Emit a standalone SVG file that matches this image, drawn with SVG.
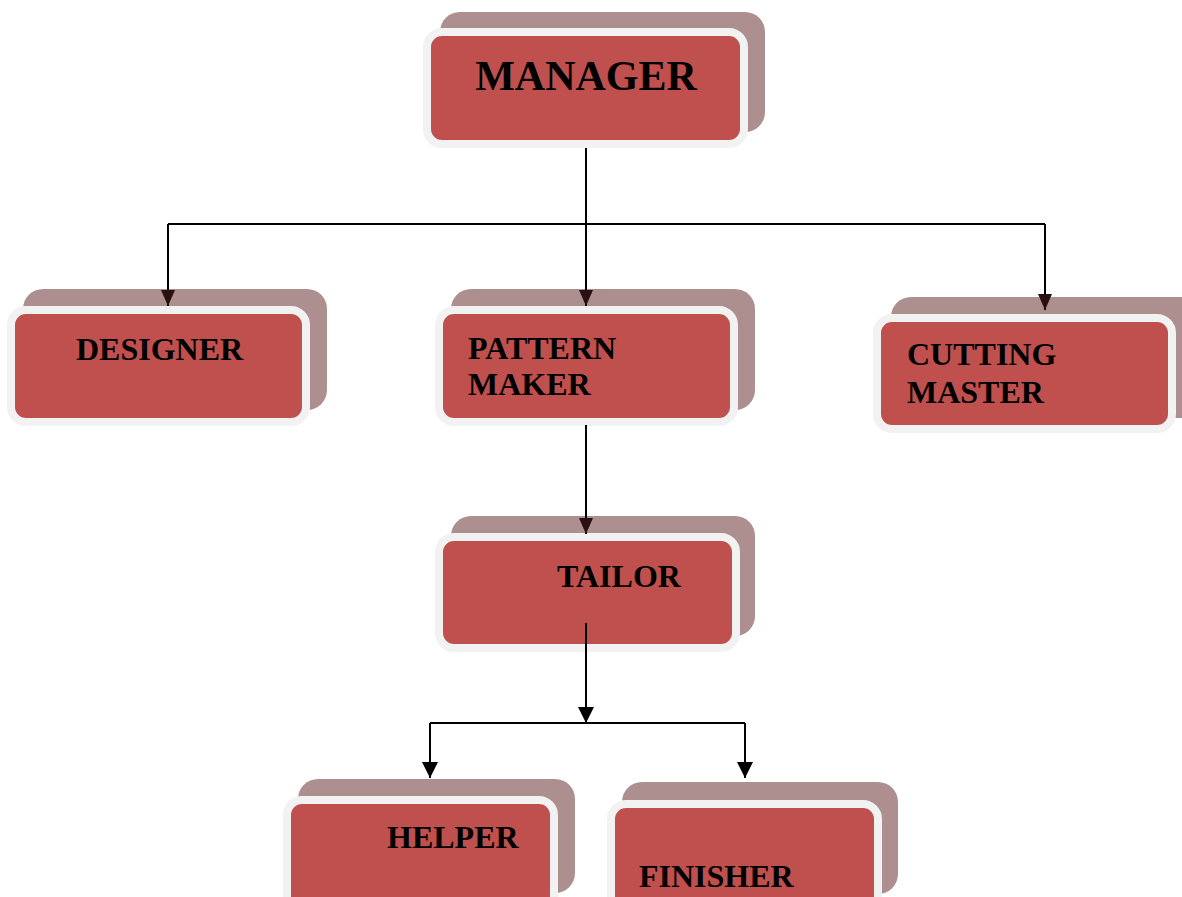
<svg xmlns="http://www.w3.org/2000/svg" width="1182" height="897" viewBox="0 0 1182 897">
<style>
.sh{fill:#ae8f8f}
.fr{fill:#c0504d;stroke:#f2f2f2;stroke-width:8}
.t{font-family:"Liberation Serif","Times New Roman",serif;font-weight:bold;font-size:32px;fill:#000}
.ln{fill:none;stroke:#000;stroke-width:2}
</style>
<defs>
<marker id="ah" viewBox="0 0 16 14" refX="16" refY="7" markerWidth="16" markerHeight="14" markerUnits="userSpaceOnUse" orient="auto">
<path d="M0,0 L16,7 L0,14 z" fill="#2a1010"/>
</marker>
<marker id="ahb" viewBox="0 0 16 16" refX="16" refY="8" markerWidth="16" markerHeight="16" markerUnits="userSpaceOnUse" orient="auto">
<path d="M0,0 L16,8 L0,16 z" fill="#000"/>
</marker>
</defs>
<rect width="1182" height="897" fill="#fff"/>
<g id="manager">
<rect class="sh" x="440" y="12" width="325" height="120" rx="20"/>
<rect class="fr" x="427" y="32" width="317" height="112" rx="15"/>
<text class="t" x="586" y="90" text-anchor="middle" style="font-size:42px">MANAGER</text>
</g>
<g id="designer">
<rect class="sh" x="23" y="289" width="304" height="121" rx="20"/>
<rect class="fr" x="11" y="310" width="295" height="112" rx="15"/>
<text class="t" x="76" y="360">DESIGNER</text>
</g>
<g id="pattern-maker">
<rect class="sh" x="451" y="289" width="304" height="121" rx="20"/>
<rect class="fr" x="439" y="310" width="295" height="112" rx="15"/>
<text class="t" x="468" y="359">PATTERN</text>
<text class="t" x="468" y="395">MAKER</text>
</g>
<g id="cutting-master">
<rect class="sh" x="891" y="297" width="310" height="121" rx="20"/>
<rect class="fr" x="877" y="318" width="295" height="111" rx="15"/>
<text class="t" x="907" y="365">CUTTING</text>
<text class="t" x="907" y="403">MASTER</text>
</g>
<g id="tailor">
<rect class="sh" x="451" y="516" width="304" height="120" rx="20"/>
<rect class="fr" x="439" y="537" width="297" height="111" rx="15"/>
<text class="t" x="557" y="587">TAILOR</text>
</g>
<g id="helper">
<rect class="sh" x="298" y="779" width="277" height="114" rx="20"/>
<rect class="fr" x="287" y="800" width="267" height="112" rx="15"/>
<text class="t" x="387" y="848">HELPER</text>
</g>
<g id="finisher">
<rect class="sh" x="622" y="782" width="276" height="112" rx="20"/>
<rect class="fr" x="611" y="804" width="267" height="112" rx="15"/>
<text class="t" x="639" y="887">FINISHER</text>
</g>
<g id="connectors">
<path class="ln" d="M168,224 H1045"/>
<path class="ln" d="M586,148 V306" marker-end="url(#ah)"/>
<path class="ln" d="M168,224 V306" marker-end="url(#ah)"/>
<path class="ln" d="M1045,224 V310" marker-end="url(#ah)"/>
<path class="ln" d="M586,425 V534" marker-end="url(#ah)"/>
<path class="ln" d="M586,623 V723" marker-end="url(#ahb)"/>
<path class="ln" d="M430,723 H745"/>
<path class="ln" d="M430,723 V778" marker-end="url(#ahb)"/>
<path class="ln" d="M745,723 V778" marker-end="url(#ahb)"/>
</g>
</svg>
